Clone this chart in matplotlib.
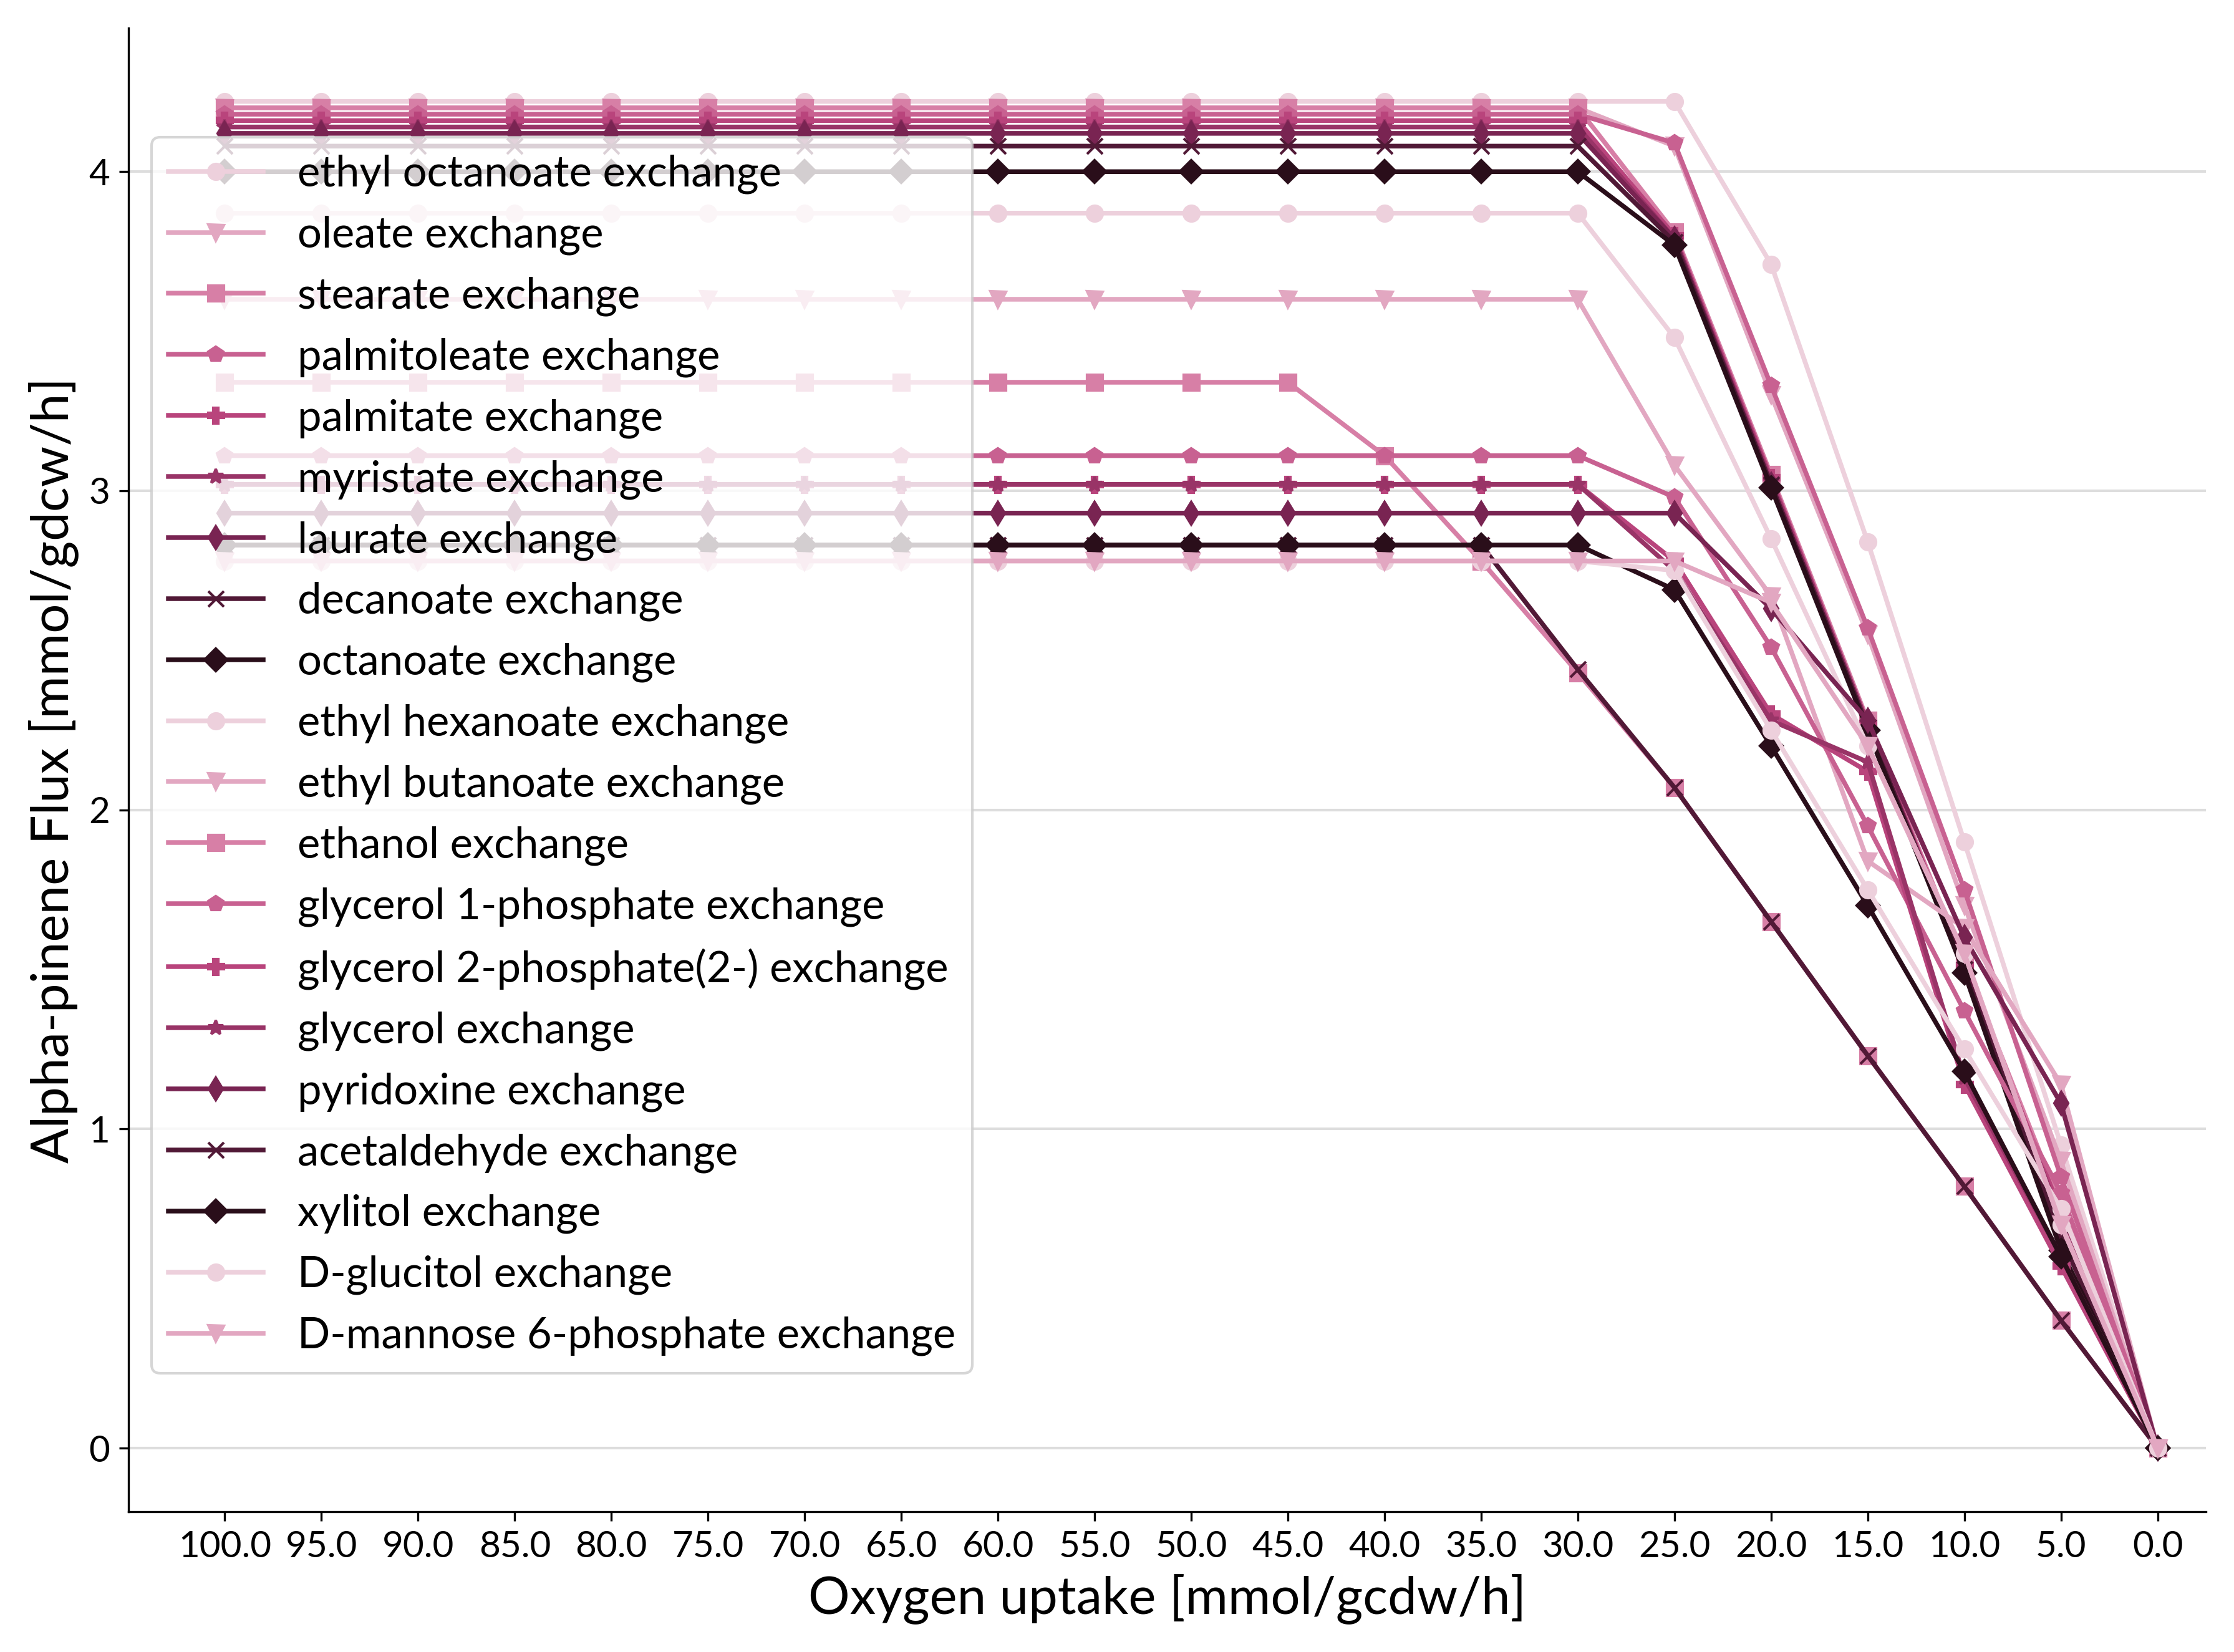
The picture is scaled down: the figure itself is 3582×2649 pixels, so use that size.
import numpy as np
import matplotlib
matplotlib.use('Agg')
import matplotlib.pyplot as plt
from matplotlib.colors import LinearSegmentedColormap

oxygen = ['100.0', '95.0', '90.0', '85.0', '80.0', '75.0', '70.0', '65.0', '60.0', '55.0',
          '50.0', '45.0', '40.0', '35.0', '30.0', '25.0', '20.0', '15.0', '10.0', '5.0', '0.0']

names = ['ethyl octanoate exchange', 'oleate exchange', 'stearate exchange',
         'palmitoleate exchange', 'palmitate exchange', 'myristate exchange',
         'laurate exchange', 'decanoate exchange', 'octanoate exchange',
         'ethyl hexanoate exchange', 'ethyl butanoate exchange', 'ethanol exchange',
         'glycerol 1-phosphate exchange', 'glycerol 2-phosphate(2-) exchange',
         'glycerol exchange', 'pyridoxine exchange', 'acetaldehyde exchange',
         'xylitol exchange', 'D-glucitol exchange', 'D-mannose 6-phosphate exchange']

# plateau value (100 -> 30) and tail values at 25, 20, 15, 10, 5, 0
plateau = [4.22, 4.20, 4.20, 4.18, 4.16, 4.14, 4.12, 4.08, 4.00,
           3.87, 3.60, 3.34, 3.11, 3.02, 3.02, 2.93, 2.83, 2.83, 2.78, 2.78]
tails = [
    [4.22, 3.71, 2.84, 1.90, 0.95, 0.0],
    [4.08, 3.30, 2.55, 1.70, 0.90, 0.0],
    [3.81, 3.05, 2.28, 1.52, 0.76, 0.0],
    [4.09, 3.33, 2.57, 1.75, 0.85, 0.0],
    [3.80, 3.04, 2.27, 1.51, 0.74, 0.0],
    [3.79, 3.03, 2.27, 1.50, 0.72, 0.0],
    [3.79, 3.02, 2.26, 1.50, 0.70, 0.0],
    [3.78, 3.02, 2.26, 1.50, 0.66, 0.0],
    [3.77, 3.01, 2.25, 1.49, 0.62, 0.0],
    [3.48, 2.85, 2.20, 1.55, 0.70, 0.0],
    [3.08, 2.67, 1.84, 1.63, 1.14, 0.0],
    [2.07, 1.65, 1.23, 0.82, 0.40, 0.0],
    [2.98, 2.51, 1.95, 1.37, 0.80, 0.0],
    [2.78, 2.30, 2.12, 1.14, 0.57, 0.0],
    [2.75, 2.28, 2.15, 1.16, 0.60, 0.0],
    [2.93, 2.63, 2.28, 1.60, 1.08, 0.0],
    [2.07, 1.65, 1.23, 0.82, 0.40, 0.0],
    [2.69, 2.20, 1.70, 1.18, 0.60, 0.0],
    [2.75, 2.25, 1.75, 1.25, 0.75, 0.0],
    [2.78, 2.65, 2.20, 1.55, 0.70, 0.0],
]
# ethanol: plateau ends at 45, then declines
ethanol_mid = [3.11, 2.78, 2.43]
acet_mid = [2.83, 2.83, 2.44]

plt.rcParams['font.family'] = ['Lato', 'DejaVu Sans']
cmap = LinearSegmentedColormap.from_list('rose', ['#edd0dc', '#d77fa6', '#b9447c', '#7a2453', '#2a0e1a'])
colors = [cmap(i / 8) for i in range(9)]
markers = ['o', 'v', 's', 'p', 'P', '*', 'd', 'x', 'D']

fig, ax = plt.subplots(figsize=(11.94, 8.83), dpi=300)
x = np.arange(len(oxygen))
for i, name in enumerate(names):
    vals = [plateau[i]] * 15 + tails[i]
    if name == 'ethanol exchange':
        vals[12:15] = ethanol_mid
    if name == 'acetaldehyde exchange':
        vals[12:15] = acet_mid
    ax.plot(x, vals, color=colors[i % 9], marker=markers[i % 9], markersize=6,
            linewidth=1.8, label=name)

ax.set_xticks(x)
ax.set_xticklabels(oxygen, fontsize=14)
ax.tick_params(axis='y', labelsize=14)
ax.set_yticks([0, 1, 2, 3, 4])
ax.set_ylim(-0.2, 4.45)
ax.set_xlim(-1, 20.5)
ax.grid(axis='y', color='#dddddd', linewidth=1)
ax.set_axisbelow(True)
ax.spines['top'].set_visible(False)
ax.spines['right'].set_visible(False)
ax.set_xlabel('Oxygen uptake [mmol/gcdw/h]', fontsize=20)
ax.set_ylabel('Alpha-pinene Flux [mmol/gdcw/h]', fontsize=20)
ax.legend(loc='upper left', bbox_to_anchor=(0.005, 0.935), fontsize=16.5, framealpha=0.8,
          handlelength=2.2, labelspacing=0.5, borderaxespad=0.3)
fig.tight_layout()
fig.savefig('out.png')
